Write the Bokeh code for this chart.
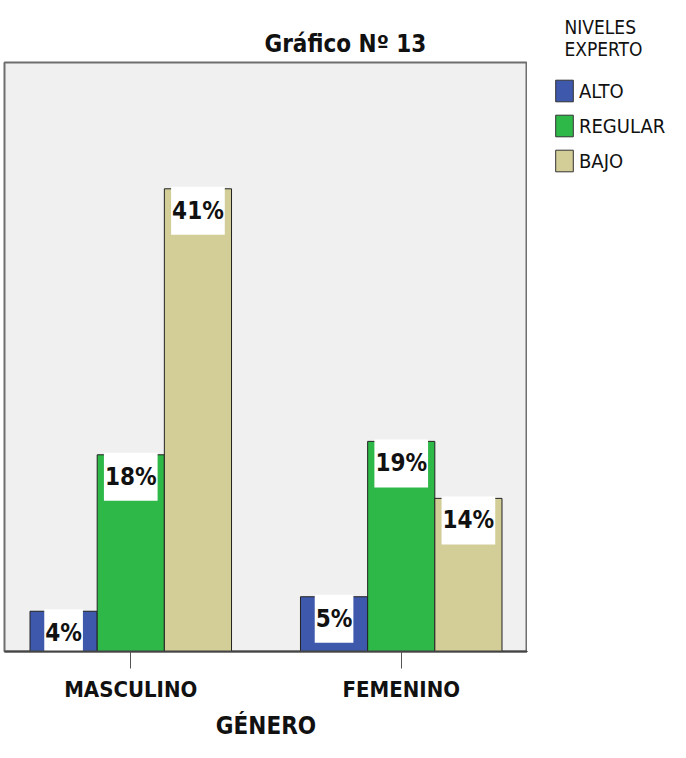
from bokeh.plotting import figure
from bokeh.layouts import row
from bokeh.models import (ColumnDataSource, FactorRange, Range1d, Legend, LegendItem)
from bokeh.transform import dodge
from bokeh.core.properties import value
from bokeh.embed import file_html
from bokeh.resources import INLINE

# ---- data ----
genders = ["MASCULINO", "FEMENINO"]
levels = ["ALTO", "REGULAR", "BAJO"]
alto = [3.6, 4.9]
regular = [17.6, 18.8]
bajo = [41.4, 13.7]
colors = ["#3e58ac", "#2eb848", "#d3ce97"]

FONT = "DejaVu Sans Condensed, Roboto"

src = ColumnDataSource(dict(
    gender=genders,
    ALTO=alto, REGULAR=regular, BAJO=bajo,
    ALTO_lbl=[f"{round(v)}%" for v in alto],
    REGULAR_lbl=[f"{round(v)}%" for v in regular],
    BAJO_lbl=[f"{round(v)}%" for v in bajo],
))

p = figure(width=527, height=742, output_backend="svg", toolbar_location=None,
           x_range=FactorRange(*genders, factor_padding=0.071, range_padding=0),
           y_range=Range1d(0, 52.7),
           title="Gráfico Nº 13")
p.min_border_left = 4
p.min_border_right = 0
p.min_border_top = 62
p.background_fill_color = "#f0f0f0"
p.border_fill_color = "white"
p.outline_line_color = "#6e6e6e"
p.outline_line_width = 2
p.xgrid.visible = False
p.ygrid.visible = False
p.yaxis.visible = False

p.title.align = "left"
p.title.offset = 260
p.title.standoff = 10
p.title.text_font = FONT
p.title.text_font_size = "24px"
p.title.text_font_style = "bold"
p.title.text_color = "#111111"

xa = p.xaxis[0]
xa.axis_label = "GÉNERO"
xa.axis_label_text_font = FONT
xa.axis_label_text_font_size = "24px"
xa.axis_label_text_font_style = "bold"
xa.axis_label_text_color = "#111111"
xa.axis_label_standoff = 7
xa.major_label_text_font = FONT
xa.major_label_text_font_size = "22px"
xa.major_label_text_font_style = "bold"
xa.major_label_text_color = "#111111"
xa.major_label_standoff = 8
xa.major_tick_in = 0
xa.major_tick_out = 17
xa.major_tick_line_color = "#555555"
xa.axis_line_color = "#444444"
xa.axis_line_width = 2

bw = 0.266
offsets = [-bw, 0, bw]
for lev, off, col in zip(levels, offsets, colors):
    p.vbar(x=dodge("gender", off, range=p.x_range), top=lev, width=bw,
           source=src, fill_color=col, line_color="#222222", line_width=1)
    p.text(x=dodge("gender", off, range=p.x_range), y=lev, text=f"{lev}_lbl",
           source=src, text_align="center", text_baseline="top",
           text_font=value(FONT), text_font_size="24px", text_font_style="bold",
           text_color="#111111", y_offset=-2,
           background_fill_color="white", padding=[1, 1, 10, 10])

# legend panel (separate canvas to the right of the plot area)
pl = figure(width=143, height=742, output_backend="svg", toolbar_location=None,
            x_range=Range1d(0, 1), y_range=Range1d(1, 2),
            title="NIVELES\nEXPERTO")
pl.min_border = 0
pl.outline_line_color = None
pl.background_fill_color = "white"
pl.border_fill_color = "white"
pl.axis.visible = False
pl.grid.visible = False
pl.title.align = "left"
pl.title.offset = 37
pl.title.standoff = 5
pl.title.text_font = FONT
pl.title.text_font_size = "19px"
pl.title.text_font_style = "normal"
pl.title.text_color = "#111111"

# legend swatch proxies (zero-size, outside the visible ranges)
proxies = [pl.vbar(x=[-5.0], top=[0.0], width=0.0, fill_color=col, line_color="#333333", line_width=1)
           for col in colors]
legend = Legend(items=[LegendItem(label=lev, renderers=[r]) for lev, r in zip(levels, proxies)],
                location=(26, 477), orientation="vertical",
                padding=0, margin=0, spacing=8, glyph_width=22, glyph_height=27,
                label_standoff=4, label_text_font=FONT, label_text_font_size="20px",
                label_text_color="#111111", border_line_color=None,
                background_fill_alpha=0)
pl.add_layout(legend, "center")

layout = row(p, pl, spacing=0)
open("out.html", "w").write(file_html(layout, INLINE))
